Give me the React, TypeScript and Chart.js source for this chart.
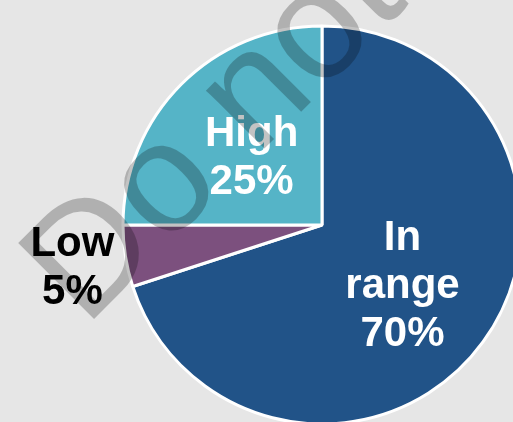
import React, { useEffect, useRef } from "react";
import { Chart, registerables } from "chart.js";

Chart.register(...registerables);

const categories = ["In range", "Low", "High"];
const values = [70, 5, 25];
const labelLines = [["In", "range", "70%"], ["Low", "5%"], ["High", "25%"]];
const colors = ["#215388", "#7c507e", "#55b4c7"];
const labelColors = ["#ffffff", "#000000", "#ffffff"];
const labelRadiusFactor = [0.5, 1.27, 0.5];
const watermarkText = "Do not copy";

const FONT = '"Liberation Sans", Arial, sans-serif';

const labelPlugin = {
  id: "sliceLabels",
  afterDatasetsDraw(chart: any) {
    const ctx = chart.ctx;
    const meta = chart.getDatasetMeta(0);
    ctx.save();
    ctx.font = `bold 42px ${FONT}`;
    ctx.textAlign = "center";
    ctx.textBaseline = "alphabetic";
    const cap = 30;
    const lh = 48;
    meta.data.forEach((arc: any, i: number) => {
      const p = arc.getProps(["x", "y", "startAngle", "endAngle", "outerRadius"], true);
      const mid = (p.startAngle + p.endAngle) / 2;
      const r = p.outerRadius * labelRadiusFactor[i];
      const cx = p.x + Math.cos(mid) * r;
      const cy = p.y + Math.sin(mid) * r;
      const lines = labelLines[i];
      const total = cap + (lines.length - 1) * lh;
      let base = cy - total / 2 + cap;
      ctx.fillStyle = labelColors[i];
      lines.forEach((t: string) => {
        ctx.fillText(t, cx, base);
        base += lh;
      });
    });
    ctx.restore();
  },
  afterDraw(chart: any) {
    const ctx = chart.ctx;
    const meta = chart.getDatasetMeta(0);
    const arc = meta.data[0];
    if (!arc) return;
    const ox = arc.x - 237;
    const oy = arc.y + 103;
    ctx.save();
    ctx.translate(ox, oy);
    ctx.rotate(-Math.PI / 4);
    ctx.font = `156px ${FONT}`;
    ctx.textAlign = "left";
    ctx.textBaseline = "alphabetic";
    ctx.fillStyle = "rgba(0,0,0,0.235)";
    ctx.fillText(watermarkText, 0, 0);
    ctx.restore();
  },
};

export default function App() {
  const ref = useRef<HTMLCanvasElement>(null);
  useEffect(() => {
    document.body.style.margin = "0";
    document.body.style.background = "#e6e6e6";
    document.documentElement.style.overflow = "hidden";
    const chart = new Chart(ref.current as HTMLCanvasElement, {
      type: "pie",
      data: {
        labels: categories,
        datasets: [
          {
            data: values,
            backgroundColor: colors,
            borderColor: "#ffffff",
            borderWidth: 3,
            radius: 199,
            clip: false,
          } as any,
        ],
      },
      options: {
        responsive: false,
        animation: false,
        radius: 199,
        layout: { padding: { left: 131, top: 28, right: 0, bottom: 0 } },
        plugins: {
          legend: { display: false },
          tooltip: { enabled: false },
        },
      } as any,
      plugins: [labelPlugin],
    });
    return () => chart.destroy();
  }, []);
  return (
    <div style={{ width: 513, height: 422, background: "#e6e6e6", overflow: "hidden" }}>
      <canvas ref={ref} width={513} height={422} style={{ display: "block", width: 513, height: 422 }} />
    </div>
  );
}
